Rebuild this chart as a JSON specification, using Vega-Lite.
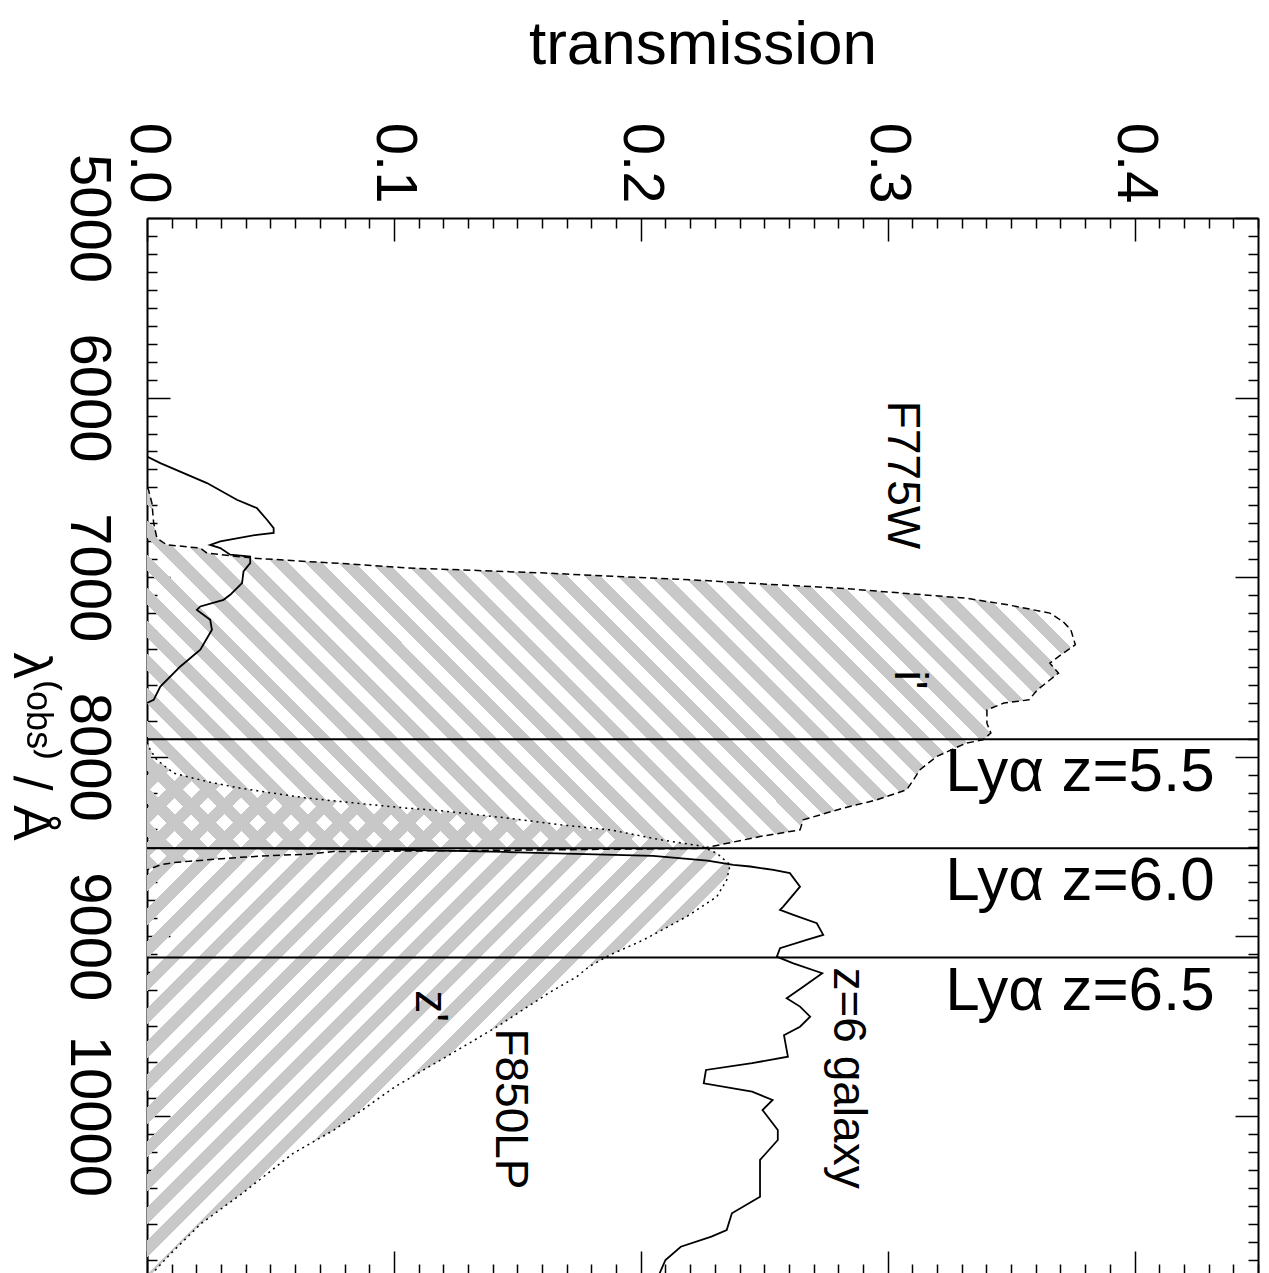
{
"$schema": "https://vega.github.io/schema/vega-lite/v6.json",
"width": 1111, "height": 1056,
"autosize": {"type": "none"},
"padding": {"left": 147, "top": 218, "right": 11, "bottom": 0},
"background": "white",
"config": {"view": {"stroke": null}, "font": "Liberation Sans"},
"resolve": {"axis": {"x": "independent", "y": "independent"}},
"datasets": {
"ib": [{"lam":6500,"T":0},{"lam":6513,"T":0.0006},{"lam":6587,"T":0.002},{"lam":6699,"T":0.0027},{"lam":6782,"T":0.004},{"lam":6820,"T":0.008},{"lam":6838,"T":0.0216},{"lam":6866,"T":0.0243},{"lam":6894,"T":0.0432},{"lam":6913,"T":0.0648},{"lam":6925,"T":0.081},{"lam":6949,"T":0.1053},{"lam":6959,"T":0.1268},{"lam":6977,"T":0.1613},{"lam":6996,"T":0.1903},{"lam":7015,"T":0.221},{"lam":7033,"T":0.2431},{"lam":7061,"T":0.2806},{"lam":7089,"T":0.3062},{"lam":7117,"T":0.3317},{"lam":7154,"T":0.3487},{"lam":7200,"T":0.3657},{"lam":7247,"T":0.371},{"lam":7293,"T":0.3742},{"lam":7376,"T":0.376},{"lam":7442,"T":0.3692},{"lam":7479,"T":0.3657},{"lam":7534,"T":0.3692},{"lam":7627,"T":0.3607},{"lam":7683,"T":0.3572},{"lam":7701,"T":0.3471},{"lam":7739,"T":0.3402},{"lam":7813,"T":0.3402},{"lam":7868,"T":0.3418},{"lam":7906,"T":0.3386},{"lam":7924,"T":0.3317},{"lam":7999,"T":0.3198},{"lam":8073,"T":0.313},{"lam":8130,"T":0.3104},{"lam":8184,"T":0.3077},{"lam":8240,"T":0.2955},{"lam":8286,"T":0.282},{"lam":8351,"T":0.2658},{"lam":8407,"T":0.2645},{"lam":8444,"T":0.2483},{"lam":8490,"T":0.2321},{"lam":8510,"T":0.225},{"lam":8520,"T":0.15},{"lam":8528,"T":0.0755},{"lam":8543,"T":0.0648},{"lam":8550,"T":0.05},{"lam":8560,"T":0.0378},{"lam":8574,"T":0.0243},{"lam":8589,"T":0.0108},{"lam":8602,"T":0.0054},{"lam":8630,"T":0}],
"zb": [{"lam":7920,"T":0},{"lam":7961,"T":0.0013},{"lam":8017,"T":0.004},{"lam":8091,"T":0.0108},{"lam":8138,"T":0.0243},{"lam":8175,"T":0.0378},{"lam":8203,"T":0.0513},{"lam":8230,"T":0.0648},{"lam":8249,"T":0.0783},{"lam":8268,"T":0.0917},{"lam":8286,"T":0.1053},{"lam":8300,"T":0.1188},{"lam":8340,"T":0.145},{"lam":8379,"T":0.1675},{"lam":8407,"T":0.1877},{"lam":8462,"T":0.2079},{"lam":8496,"T":0.224},{"lam":8537,"T":0.2308},{"lam":8602,"T":0.2362},{"lam":8686,"T":0.2348},{"lam":8779,"T":0.2308},{"lam":8890,"T":0.2186},{"lam":9020,"T":0.2011},{"lam":9103,"T":0.1876},{"lam":9168,"T":0.1791},{"lam":9224,"T":0.1741},{"lam":9317,"T":0.1625},{"lam":9503,"T":0.1418},{"lam":9670,"T":0.1212},{"lam":9837,"T":0.1005},{"lam":10078,"T":0.0758},{"lam":10208,"T":0.0592},{"lam":10431,"T":0.0386},{"lam":10598,"T":0.022},{"lam":10765,"T":0.0097},{"lam":10858,"T":0.0034},{"lam":10880,"T":0.002}],
"f775": [{"lam":6328,"T":0},{"lam":6365,"T":0.0054},{"lam":6476,"T":0.0243},{"lam":6569,"T":0.0364},{"lam":6615,"T":0.0445},{"lam":6680,"T":0.0486},{"lam":6727,"T":0.0513},{"lam":6754,"T":0.0513},{"lam":6764,"T":0.0445},{"lam":6801,"T":0.0297},{"lam":6820,"T":0.0256},{"lam":6838,"T":0.0297},{"lam":6875,"T":0.0337},{"lam":6885,"T":0.0418},{"lam":6922,"T":0.0418},{"lam":6968,"T":0.0391},{"lam":7033,"T":0.0385},{"lam":7098,"T":0.0337},{"lam":7126,"T":0.031},{"lam":7163,"T":0.0216},{"lam":7182,"T":0.0202},{"lam":7237,"T":0.0256},{"lam":7293,"T":0.0263},{"lam":7404,"T":0.0216},{"lam":7497,"T":0.0135},{"lam":7609,"T":0.0054},{"lam":7683,"T":0.0027},{"lam":7700,"T":0}],
"gal": [{"lam":8509,"T":0},{"lam":8512,"T":0.083},{"lam":8530,"T":0.145},{"lam":8552,"T":0.205},{"lam":8578,"T":0.227},{"lam":8602,"T":0.2375},{"lam":8611,"T":0.2443},{"lam":8630,"T":0.2537},{"lam":8648,"T":0.2604},{"lam":8723,"T":0.2645},{"lam":8834,"T":0.2577},{"lam":8853,"T":0.2564},{"lam":8880,"T":0.2618},{"lam":8927,"T":0.2713},{"lam":8992,"T":0.2739},{"lam":9020,"T":0.2672},{"lam":9066,"T":0.2564},{"lam":9113,"T":0.2551},{"lam":9150,"T":0.2618},{"lam":9205,"T":0.2735},{"lam":9280,"T":0.2658},{"lam":9344,"T":0.2591},{"lam":9391,"T":0.2645},{"lam":9447,"T":0.2686},{"lam":9503,"T":0.2645},{"lam":9550,"T":0.258},{"lam":9670,"T":0.2596},{"lam":9706,"T":0.2451},{"lam":9744,"T":0.2264},{"lam":9818,"T":0.2255},{"lam":9865,"T":0.2451},{"lam":9911,"T":0.2534},{"lam":9967,"T":0.2493},{"lam":10078,"T":0.2555},{"lam":10134,"T":0.2555},{"lam":10245,"T":0.2483},{"lam":10450,"T":0.2483},{"lam":10542,"T":0.2369},{"lam":10635,"T":0.2348},{"lam":10672,"T":0.2286},{"lam":10728,"T":0.2162},{"lam":10802,"T":0.21},{"lam":10880,"T":0.2075}],
"lya": [{"lam":7902,"lab":"Lyα z=5.5"},{"lam":8510,"lab":"Lyα z=6.0"},{"lam":9118,"lab":"Lyα z=6.5"}],
"notes": [{"lab":"F775W","T":0.3058,"lam":6431},{"lab":"i'","T":0.3086,"lam":7572},{"lab":"z'","T":0.1146,"lam":9388},{"lab":"F850LP","T":0.147,"lam":9961},{"lab":"z=6 galaxy","T":0.2839,"lam":9789}]
},
"layer": [
{
"data": {"name": "ib"},
"mark": {"type": "area", "orient": "horizontal", "strokeWidth": 0, "clip": true,
 "fill": {"gradient": "linear", "x1": 0, "y1": 1, "x2": 1.2242, "y2": 0.4956, "stops": [
{"offset":0,"color":"#c8c8c8"},{"offset":0.0125,"color":"#c8c8c8"},{"offset":0.0125,"color":"rgba(255,255,255,0)"},{"offset":0.025,"color":"rgba(255,255,255,0)"},
{"offset":0.025,"color":"#c8c8c8"},{"offset":0.0375,"color":"#c8c8c8"},{"offset":0.0375,"color":"rgba(255,255,255,0)"},{"offset":0.05,"color":"rgba(255,255,255,0)"},
{"offset":0.05,"color":"#c8c8c8"},{"offset":0.0625,"color":"#c8c8c8"},{"offset":0.0625,"color":"rgba(255,255,255,0)"},{"offset":0.075,"color":"rgba(255,255,255,0)"},
{"offset":0.075,"color":"#c8c8c8"},{"offset":0.0875,"color":"#c8c8c8"},{"offset":0.0875,"color":"rgba(255,255,255,0)"},{"offset":0.1,"color":"rgba(255,255,255,0)"},
{"offset":0.1,"color":"#c8c8c8"},{"offset":0.1125,"color":"#c8c8c8"},{"offset":0.1125,"color":"rgba(255,255,255,0)"},{"offset":0.125,"color":"rgba(255,255,255,0)"},
{"offset":0.125,"color":"#c8c8c8"},{"offset":0.1375,"color":"#c8c8c8"},{"offset":0.1375,"color":"rgba(255,255,255,0)"},{"offset":0.15,"color":"rgba(255,255,255,0)"},
{"offset":0.15,"color":"#c8c8c8"},{"offset":0.1625,"color":"#c8c8c8"},{"offset":0.1625,"color":"rgba(255,255,255,0)"},{"offset":0.175,"color":"rgba(255,255,255,0)"},
{"offset":0.175,"color":"#c8c8c8"},{"offset":0.1875,"color":"#c8c8c8"},{"offset":0.1875,"color":"rgba(255,255,255,0)"},{"offset":0.2,"color":"rgba(255,255,255,0)"},
{"offset":0.2,"color":"#c8c8c8"},{"offset":0.2125,"color":"#c8c8c8"},{"offset":0.2125,"color":"rgba(255,255,255,0)"},{"offset":0.225,"color":"rgba(255,255,255,0)"},
{"offset":0.225,"color":"#c8c8c8"},{"offset":0.2375,"color":"#c8c8c8"},{"offset":0.2375,"color":"rgba(255,255,255,0)"},{"offset":0.25,"color":"rgba(255,255,255,0)"},
{"offset":0.25,"color":"#c8c8c8"},{"offset":0.2625,"color":"#c8c8c8"},{"offset":0.2625,"color":"rgba(255,255,255,0)"},{"offset":0.275,"color":"rgba(255,255,255,0)"},
{"offset":0.275,"color":"#c8c8c8"},{"offset":0.2875,"color":"#c8c8c8"},{"offset":0.2875,"color":"rgba(255,255,255,0)"},{"offset":0.3,"color":"rgba(255,255,255,0)"},
{"offset":0.3,"color":"#c8c8c8"},{"offset":0.3125,"color":"#c8c8c8"},{"offset":0.3125,"color":"rgba(255,255,255,0)"},{"offset":0.325,"color":"rgba(255,255,255,0)"},
{"offset":0.325,"color":"#c8c8c8"},{"offset":0.3375,"color":"#c8c8c8"},{"offset":0.3375,"color":"rgba(255,255,255,0)"},{"offset":0.35,"color":"rgba(255,255,255,0)"},
{"offset":0.35,"color":"#c8c8c8"},{"offset":0.3625,"color":"#c8c8c8"},{"offset":0.3625,"color":"rgba(255,255,255,0)"},{"offset":0.375,"color":"rgba(255,255,255,0)"},
{"offset":0.375,"color":"#c8c8c8"},{"offset":0.3875,"color":"#c8c8c8"},{"offset":0.3875,"color":"rgba(255,255,255,0)"},{"offset":0.4,"color":"rgba(255,255,255,0)"},
{"offset":0.4,"color":"#c8c8c8"},{"offset":0.4125,"color":"#c8c8c8"},{"offset":0.4125,"color":"rgba(255,255,255,0)"},{"offset":0.425,"color":"rgba(255,255,255,0)"},
{"offset":0.425,"color":"#c8c8c8"},{"offset":0.4375,"color":"#c8c8c8"},{"offset":0.4375,"color":"rgba(255,255,255,0)"},{"offset":0.45,"color":"rgba(255,255,255,0)"},
{"offset":0.45,"color":"#c8c8c8"},{"offset":0.4625,"color":"#c8c8c8"},{"offset":0.4625,"color":"rgba(255,255,255,0)"},{"offset":0.475,"color":"rgba(255,255,255,0)"},
{"offset":0.475,"color":"#c8c8c8"},{"offset":0.4875,"color":"#c8c8c8"},{"offset":0.4875,"color":"rgba(255,255,255,0)"},{"offset":0.5,"color":"rgba(255,255,255,0)"},
{"offset":0.5,"color":"#c8c8c8"},{"offset":0.5125,"color":"#c8c8c8"},{"offset":0.5125,"color":"rgba(255,255,255,0)"},{"offset":0.525,"color":"rgba(255,255,255,0)"},
{"offset":0.525,"color":"#c8c8c8"},{"offset":0.5375,"color":"#c8c8c8"},{"offset":0.5375,"color":"rgba(255,255,255,0)"},{"offset":0.55,"color":"rgba(255,255,255,0)"},
{"offset":0.55,"color":"#c8c8c8"},{"offset":0.5625,"color":"#c8c8c8"},{"offset":0.5625,"color":"rgba(255,255,255,0)"},{"offset":0.575,"color":"rgba(255,255,255,0)"},
{"offset":0.575,"color":"#c8c8c8"},{"offset":0.5875,"color":"#c8c8c8"},{"offset":0.5875,"color":"rgba(255,255,255,0)"},{"offset":0.6,"color":"rgba(255,255,255,0)"},
{"offset":0.6,"color":"#c8c8c8"},{"offset":0.6125,"color":"#c8c8c8"},{"offset":0.6125,"color":"rgba(255,255,255,0)"},{"offset":0.625,"color":"rgba(255,255,255,0)"},
{"offset":0.625,"color":"#c8c8c8"},{"offset":0.6375,"color":"#c8c8c8"},{"offset":0.6375,"color":"rgba(255,255,255,0)"},{"offset":0.65,"color":"rgba(255,255,255,0)"},
{"offset":0.65,"color":"#c8c8c8"},{"offset":0.6625,"color":"#c8c8c8"},{"offset":0.6625,"color":"rgba(255,255,255,0)"},{"offset":0.675,"color":"rgba(255,255,255,0)"},
{"offset":0.675,"color":"#c8c8c8"},{"offset":0.6875,"color":"#c8c8c8"},{"offset":0.6875,"color":"rgba(255,255,255,0)"},{"offset":0.7,"color":"rgba(255,255,255,0)"},
{"offset":0.7,"color":"#c8c8c8"},{"offset":0.7125,"color":"#c8c8c8"},{"offset":0.7125,"color":"rgba(255,255,255,0)"},{"offset":0.725,"color":"rgba(255,255,255,0)"},
{"offset":0.725,"color":"#c8c8c8"},{"offset":0.7375,"color":"#c8c8c8"},{"offset":0.7375,"color":"rgba(255,255,255,0)"},{"offset":0.75,"color":"rgba(255,255,255,0)"},
{"offset":0.75,"color":"#c8c8c8"},{"offset":0.7625,"color":"#c8c8c8"},{"offset":0.7625,"color":"rgba(255,255,255,0)"},{"offset":0.775,"color":"rgba(255,255,255,0)"},
{"offset":0.775,"color":"#c8c8c8"},{"offset":0.7875,"color":"#c8c8c8"},{"offset":0.7875,"color":"rgba(255,255,255,0)"},{"offset":0.8,"color":"rgba(255,255,255,0)"},
{"offset":0.8,"color":"#c8c8c8"},{"offset":0.8125,"color":"#c8c8c8"},{"offset":0.8125,"color":"rgba(255,255,255,0)"},{"offset":0.825,"color":"rgba(255,255,255,0)"},
{"offset":0.825,"color":"#c8c8c8"},{"offset":0.8375,"color":"#c8c8c8"},{"offset":0.8375,"color":"rgba(255,255,255,0)"},{"offset":0.85,"color":"rgba(255,255,255,0)"},
{"offset":0.85,"color":"#c8c8c8"},{"offset":0.8625,"color":"#c8c8c8"},{"offset":0.8625,"color":"rgba(255,255,255,0)"},{"offset":0.875,"color":"rgba(255,255,255,0)"},
{"offset":0.875,"color":"#c8c8c8"},{"offset":0.8875,"color":"#c8c8c8"},{"offset":0.8875,"color":"rgba(255,255,255,0)"},{"offset":0.9,"color":"rgba(255,255,255,0)"},
{"offset":0.9,"color":"#c8c8c8"},{"offset":0.9125,"color":"#c8c8c8"},{"offset":0.9125,"color":"rgba(255,255,255,0)"},{"offset":0.925,"color":"rgba(255,255,255,0)"},
{"offset":0.925,"color":"#c8c8c8"},{"offset":0.9375,"color":"#c8c8c8"},{"offset":0.9375,"color":"rgba(255,255,255,0)"},{"offset":0.95,"color":"rgba(255,255,255,0)"},
{"offset":0.95,"color":"#c8c8c8"},{"offset":0.9625,"color":"#c8c8c8"},{"offset":0.9625,"color":"rgba(255,255,255,0)"},{"offset":0.975,"color":"rgba(255,255,255,0)"},
{"offset":0.975,"color":"#c8c8c8"},{"offset":0.9875,"color":"#c8c8c8"},{"offset":0.9875,"color":"rgba(255,255,255,0)"},{"offset":1,"color":"rgba(255,255,255,0)"}
]}},
"encoding": {
 "x": {"field": "T", "type": "quantitative", "stack": null, "scale": {"domain": [0, 0.45], "nice": false, "zero": false},
  "axis": {"orient": "top", "values": [0,0.01,0.02,0.03,0.04,0.05,0.06,0.07,0.08,0.09,0.1,0.11,0.12,0.13,0.14,0.15,0.16,0.17,0.18,0.19,0.2,0.21,0.22,0.23,0.24,0.25,0.26,0.27,0.28,0.29,0.3,0.31,0.32,0.33,0.34,0.35,0.36,0.37,0.38,0.39,0.4,0.41,0.42,0.43,0.44,0.45],
   "labelExpr": "abs(datum.value*10-round(datum.value*10))<1e-6 ? format(datum.value,'.1f') : ''",
   "tickSize": {"condition": {"test": "abs(datum.value*10-round(datum.value*10))<1e-6", "value": -23}, "value": -10},
   "tickColor": "black", "tickWidth": 1.5, "domainColor": "black", "domainWidth": 2, "grid": false,
   "labelAngle": 90, "labelAlign": "right", "labelBaseline": "middle", "labelFontSize": 58, "labelColor": "black",
   "labelPadding": 38, "labelFlush": false, "labelOverlap": false, "labelBound": false,
   "title": "transmission", "titleFontSize": 62, "titleFontWeight": "normal", "titleColor": "black", "titleAngle": 0, "titlePadding": 46}},
 "y": {"field": "lam", "type": "quantitative", "scale": {"domain": [5000, 10880], "nice": false, "zero": false, "reverse": true},
  "axis": {"orient": "left", "values": [5000,5100,5200,5300,5400,5500,5600,5700,5800,5900,6000,6100,6200,6300,6400,6500,6600,6700,6800,6900,7000,7100,7200,7300,7400,7500,7600,7700,7800,7900,8000,8100,8200,8300,8400,8500,8600,8700,8800,8900,9000,9100,9200,9300,9400,9500,9600,9700,9800,9900,10000,10100,10200,10300,10400,10500,10600,10700,10800],
   "labelExpr": "datum.value % 1000 === 0 ? '' + datum.value : ''",
   "tickSize": {"condition": {"test": "datum.value % 1000 === 0", "value": -23}, "value": -10},
   "tickColor": "black", "tickWidth": 1.5, "domainColor": "black", "domainWidth": 2, "grid": false,
   "labelAngle": 90, "labelAlign": "center", "labelBaseline": "top", "labelFontSize": 58, "labelColor": "black",
   "labelPadding": 54, "labelFlush": false, "labelOverlap": false, "labelBound": false,
   "title": "λ⁽ᵒᵇˢ⁾ / Å", "titleFontSize": 53, "titleFontWeight": "normal", "titleColor": "black", "titleAngle": 90, "titleBaseline": "top", "titlePadding": -10}}
}
},
{
"data": {"name": "zb"},
"mark": {"type": "area", "orient": "horizontal", "strokeWidth": 0, "clip": true,
 "fill": {"gradient": "linear", "x1": 0, "y1": 0, "x2": 1.245, "y2": 1.1349, "stops": [
{"offset":0,"color":"#c8c8c8"},{"offset":0.0125,"color":"#c8c8c8"},{"offset":0.0125,"color":"rgba(255,255,255,0)"},{"offset":0.025,"color":"rgba(255,255,255,0)"},
{"offset":0.025,"color":"#c8c8c8"},{"offset":0.0375,"color":"#c8c8c8"},{"offset":0.0375,"color":"rgba(255,255,255,0)"},{"offset":0.05,"color":"rgba(255,255,255,0)"},
{"offset":0.05,"color":"#c8c8c8"},{"offset":0.0625,"color":"#c8c8c8"},{"offset":0.0625,"color":"rgba(255,255,255,0)"},{"offset":0.075,"color":"rgba(255,255,255,0)"},
{"offset":0.075,"color":"#c8c8c8"},{"offset":0.0875,"color":"#c8c8c8"},{"offset":0.0875,"color":"rgba(255,255,255,0)"},{"offset":0.1,"color":"rgba(255,255,255,0)"},
{"offset":0.1,"color":"#c8c8c8"},{"offset":0.1125,"color":"#c8c8c8"},{"offset":0.1125,"color":"rgba(255,255,255,0)"},{"offset":0.125,"color":"rgba(255,255,255,0)"},
{"offset":0.125,"color":"#c8c8c8"},{"offset":0.1375,"color":"#c8c8c8"},{"offset":0.1375,"color":"rgba(255,255,255,0)"},{"offset":0.15,"color":"rgba(255,255,255,0)"},
{"offset":0.15,"color":"#c8c8c8"},{"offset":0.1625,"color":"#c8c8c8"},{"offset":0.1625,"color":"rgba(255,255,255,0)"},{"offset":0.175,"color":"rgba(255,255,255,0)"},
{"offset":0.175,"color":"#c8c8c8"},{"offset":0.1875,"color":"#c8c8c8"},{"offset":0.1875,"color":"rgba(255,255,255,0)"},{"offset":0.2,"color":"rgba(255,255,255,0)"},
{"offset":0.2,"color":"#c8c8c8"},{"offset":0.2125,"color":"#c8c8c8"},{"offset":0.2125,"color":"rgba(255,255,255,0)"},{"offset":0.225,"color":"rgba(255,255,255,0)"},
{"offset":0.225,"color":"#c8c8c8"},{"offset":0.2375,"color":"#c8c8c8"},{"offset":0.2375,"color":"rgba(255,255,255,0)"},{"offset":0.25,"color":"rgba(255,255,255,0)"},
{"offset":0.25,"color":"#c8c8c8"},{"offset":0.2625,"color":"#c8c8c8"},{"offset":0.2625,"color":"rgba(255,255,255,0)"},{"offset":0.275,"color":"rgba(255,255,255,0)"},
{"offset":0.275,"color":"#c8c8c8"},{"offset":0.2875,"color":"#c8c8c8"},{"offset":0.2875,"color":"rgba(255,255,255,0)"},{"offset":0.3,"color":"rgba(255,255,255,0)"},
{"offset":0.3,"color":"#c8c8c8"},{"offset":0.3125,"color":"#c8c8c8"},{"offset":0.3125,"color":"rgba(255,255,255,0)"},{"offset":0.325,"color":"rgba(255,255,255,0)"},
{"offset":0.325,"color":"#c8c8c8"},{"offset":0.3375,"color":"#c8c8c8"},{"offset":0.3375,"color":"rgba(255,255,255,0)"},{"offset":0.35,"color":"rgba(255,255,255,0)"},
{"offset":0.35,"color":"#c8c8c8"},{"offset":0.3625,"color":"#c8c8c8"},{"offset":0.3625,"color":"rgba(255,255,255,0)"},{"offset":0.375,"color":"rgba(255,255,255,0)"},
{"offset":0.375,"color":"#c8c8c8"},{"offset":0.3875,"color":"#c8c8c8"},{"offset":0.3875,"color":"rgba(255,255,255,0)"},{"offset":0.4,"color":"rgba(255,255,255,0)"},
{"offset":0.4,"color":"#c8c8c8"},{"offset":0.4125,"color":"#c8c8c8"},{"offset":0.4125,"color":"rgba(255,255,255,0)"},{"offset":0.425,"color":"rgba(255,255,255,0)"},
{"offset":0.425,"color":"#c8c8c8"},{"offset":0.4375,"color":"#c8c8c8"},{"offset":0.4375,"color":"rgba(255,255,255,0)"},{"offset":0.45,"color":"rgba(255,255,255,0)"},
{"offset":0.45,"color":"#c8c8c8"},{"offset":0.4625,"color":"#c8c8c8"},{"offset":0.4625,"color":"rgba(255,255,255,0)"},{"offset":0.475,"color":"rgba(255,255,255,0)"},
{"offset":0.475,"color":"#c8c8c8"},{"offset":0.4875,"color":"#c8c8c8"},{"offset":0.4875,"color":"rgba(255,255,255,0)"},{"offset":0.5,"color":"rgba(255,255,255,0)"},
{"offset":0.5,"color":"#c8c8c8"},{"offset":0.5125,"color":"#c8c8c8"},{"offset":0.5125,"color":"rgba(255,255,255,0)"},{"offset":0.525,"color":"rgba(255,255,255,0)"},
{"offset":0.525,"color":"#c8c8c8"},{"offset":0.5375,"color":"#c8c8c8"},{"offset":0.5375,"color":"rgba(255,255,255,0)"},{"offset":0.55,"color":"rgba(255,255,255,0)"},
{"offset":0.55,"color":"#c8c8c8"},{"offset":0.5625,"color":"#c8c8c8"},{"offset":0.5625,"color":"rgba(255,255,255,0)"},{"offset":0.575,"color":"rgba(255,255,255,0)"},
{"offset":0.575,"color":"#c8c8c8"},{"offset":0.5875,"color":"#c8c8c8"},{"offset":0.5875,"color":"rgba(255,255,255,0)"},{"offset":0.6,"color":"rgba(255,255,255,0)"},
{"offset":0.6,"color":"#c8c8c8"},{"offset":0.6125,"color":"#c8c8c8"},{"offset":0.6125,"color":"rgba(255,255,255,0)"},{"offset":0.625,"color":"rgba(255,255,255,0)"},
{"offset":0.625,"color":"#c8c8c8"},{"offset":0.6375,"color":"#c8c8c8"},{"offset":0.6375,"color":"rgba(255,255,255,0)"},{"offset":0.65,"color":"rgba(255,255,255,0)"},
{"offset":0.65,"color":"#c8c8c8"},{"offset":0.6625,"color":"#c8c8c8"},{"offset":0.6625,"color":"rgba(255,255,255,0)"},{"offset":0.675,"color":"rgba(255,255,255,0)"},
{"offset":0.675,"color":"#c8c8c8"},{"offset":0.6875,"color":"#c8c8c8"},{"offset":0.6875,"color":"rgba(255,255,255,0)"},{"offset":0.7,"color":"rgba(255,255,255,0)"},
{"offset":0.7,"color":"#c8c8c8"},{"offset":0.7125,"color":"#c8c8c8"},{"offset":0.7125,"color":"rgba(255,255,255,0)"},{"offset":0.725,"color":"rgba(255,255,255,0)"},
{"offset":0.725,"color":"#c8c8c8"},{"offset":0.7375,"color":"#c8c8c8"},{"offset":0.7375,"color":"rgba(255,255,255,0)"},{"offset":0.75,"color":"rgba(255,255,255,0)"},
{"offset":0.75,"color":"#c8c8c8"},{"offset":0.7625,"color":"#c8c8c8"},{"offset":0.7625,"color":"rgba(255,255,255,0)"},{"offset":0.775,"color":"rgba(255,255,255,0)"},
{"offset":0.775,"color":"#c8c8c8"},{"offset":0.7875,"color":"#c8c8c8"},{"offset":0.7875,"color":"rgba(255,255,255,0)"},{"offset":0.8,"color":"rgba(255,255,255,0)"},
{"offset":0.8,"color":"#c8c8c8"},{"offset":0.8125,"color":"#c8c8c8"},{"offset":0.8125,"color":"rgba(255,255,255,0)"},{"offset":0.825,"color":"rgba(255,255,255,0)"},
{"offset":0.825,"color":"#c8c8c8"},{"offset":0.8375,"color":"#c8c8c8"},{"offset":0.8375,"color":"rgba(255,255,255,0)"},{"offset":0.85,"color":"rgba(255,255,255,0)"},
{"offset":0.85,"color":"#c8c8c8"},{"offset":0.8625,"color":"#c8c8c8"},{"offset":0.8625,"color":"rgba(255,255,255,0)"},{"offset":0.875,"color":"rgba(255,255,255,0)"},
{"offset":0.875,"color":"#c8c8c8"},{"offset":0.8875,"color":"#c8c8c8"},{"offset":0.8875,"color":"rgba(255,255,255,0)"},{"offset":0.9,"color":"rgba(255,255,255,0)"},
{"offset":0.9,"color":"#c8c8c8"},{"offset":0.9125,"color":"#c8c8c8"},{"offset":0.9125,"color":"rgba(255,255,255,0)"},{"offset":0.925,"color":"rgba(255,255,255,0)"},
{"offset":0.925,"color":"#c8c8c8"},{"offset":0.9375,"color":"#c8c8c8"},{"offset":0.9375,"color":"rgba(255,255,255,0)"},{"offset":0.95,"color":"rgba(255,255,255,0)"},
{"offset":0.95,"color":"#c8c8c8"},{"offset":0.9625,"color":"#c8c8c8"},{"offset":0.9625,"color":"rgba(255,255,255,0)"},{"offset":0.975,"color":"rgba(255,255,255,0)"},
{"offset":0.975,"color":"#c8c8c8"},{"offset":0.9875,"color":"#c8c8c8"},{"offset":0.9875,"color":"rgba(255,255,255,0)"},{"offset":1,"color":"rgba(255,255,255,0)"}
]}},
"encoding": {
 "x": {"field": "T", "type": "quantitative", "stack": null, "scale": {"domain": [0, 0.45], "nice": false, "zero": false},
  "axis": {"orient": "bottom", "values": [0,0.01,0.02,0.03,0.04,0.05,0.06,0.07,0.08,0.09,0.1,0.11,0.12,0.13,0.14,0.15,0.16,0.17,0.18,0.19,0.2,0.21,0.22,0.23,0.24,0.25,0.26,0.27,0.28,0.29,0.3,0.31,0.32,0.33,0.34,0.35,0.36,0.37,0.38,0.39,0.4,0.41,0.42,0.43,0.44,0.45],
   "labels": false, "title": null,
   "tickSize": {"condition": {"test": "abs(datum.value*10-round(datum.value*10))<1e-6", "value": -23}, "value": -10},
   "tickColor": "black", "tickWidth": 1.5, "domainColor": "black", "domainWidth": 2, "grid": false}},
 "y": {"field": "lam", "type": "quantitative", "scale": {"domain": [5000, 10880], "nice": false, "zero": false, "reverse": true},
  "axis": {"orient": "right", "values": [5000,5100,5200,5300,5400,5500,5600,5700,5800,5900,6000,6100,6200,6300,6400,6500,6600,6700,6800,6900,7000,7100,7200,7300,7400,7500,7600,7700,7800,7900,8000,8100,8200,8300,8400,8500,8600,8700,8800,8900,9000,9100,9200,9300,9400,9500,9600,9700,9800,9900,10000,10100,10200,10300,10400,10500,10600,10700,10800],
   "labels": false, "title": null,
   "tickSize": {"condition": {"test": "datum.value % 1000 === 0", "value": -23}, "value": -10},
   "tickColor": "black", "tickWidth": 1.5, "domainColor": "black", "domainWidth": 2, "grid": false}}
}
},
{
"data": {"name": "ib"},
"mark": {"type": "line", "color": "black", "strokeWidth": 1.5, "strokeDash": [7, 4], "clip": true},
"encoding": {
 "x": {"field": "T", "type": "quantitative", "scale": {"domain": [0, 0.45], "nice": false, "zero": false}, "axis": null},
 "y": {"field": "lam", "type": "quantitative", "scale": {"domain": [5000, 10880], "nice": false, "zero": false, "reverse": true}, "axis": null},
 "order": {"field": "lam", "type": "quantitative"}
}
},
{
"data": {"name": "zb"},
"mark": {"type": "line", "color": "black", "strokeWidth": 1.5, "strokeDash": [2, 4], "clip": true},
"encoding": {
 "x": {"field": "T", "type": "quantitative", "scale": {"domain": [0, 0.45], "nice": false, "zero": false}, "axis": null},
 "y": {"field": "lam", "type": "quantitative", "scale": {"domain": [5000, 10880], "nice": false, "zero": false, "reverse": true}, "axis": null},
 "order": {"field": "lam", "type": "quantitative"}
}
},
{
"data": {"name": "f775"},
"mark": {"type": "line", "color": "black", "strokeWidth": 1.8, "clip": true},
"encoding": {
 "x": {"field": "T", "type": "quantitative", "scale": {"domain": [0, 0.45], "nice": false, "zero": false}, "axis": null},
 "y": {"field": "lam", "type": "quantitative", "scale": {"domain": [5000, 10880], "nice": false, "zero": false, "reverse": true}, "axis": null},
 "order": {"field": "lam", "type": "quantitative"}
}
},
{
"data": {"name": "gal"},
"mark": {"type": "line", "color": "black", "strokeWidth": 1.8, "clip": true},
"encoding": {
 "x": {"field": "T", "type": "quantitative", "scale": {"domain": [0, 0.45], "nice": false, "zero": false}, "axis": null},
 "y": {"field": "lam", "type": "quantitative", "scale": {"domain": [5000, 10880], "nice": false, "zero": false, "reverse": true}, "axis": null},
 "order": {"field": "lam", "type": "quantitative"}
}
},
{
"data": {"name": "lya"},
"mark": {"type": "rule", "color": "black", "strokeWidth": 2},
"encoding": {
 "y": {"field": "lam", "type": "quantitative", "scale": {"domain": [5000, 10880], "nice": false, "zero": false, "reverse": true}, "axis": null}
}
},
{
"data": {"name": "lya"},
"mark": {"type": "text", "align": "right", "baseline": "alphabetic", "dy": 52, "fontSize": 62, "color": "black", "font": "Liberation Sans"},
"encoding": {
 "x": {"datum": 0.4325, "type": "quantitative", "scale": {"domain": [0, 0.45], "nice": false, "zero": false}, "axis": null},
 "y": {"field": "lam", "type": "quantitative", "scale": {"domain": [5000, 10880], "nice": false, "zero": false, "reverse": true}, "axis": null},
 "text": {"field": "lab"}
}
},
{
"data": {"name": "notes"},
"mark": {"type": "text", "align": "center", "baseline": "middle", "angle": 90, "fontSize": 46, "color": "black", "font": "Liberation Sans"},
"encoding": {
 "x": {"field": "T", "type": "quantitative", "scale": {"domain": [0, 0.45], "nice": false, "zero": false}, "axis": null},
 "y": {"field": "lam", "type": "quantitative", "scale": {"domain": [5000, 10880], "nice": false, "zero": false, "reverse": true}, "axis": null},
 "text": {"field": "lab"}
}
}
]
}
